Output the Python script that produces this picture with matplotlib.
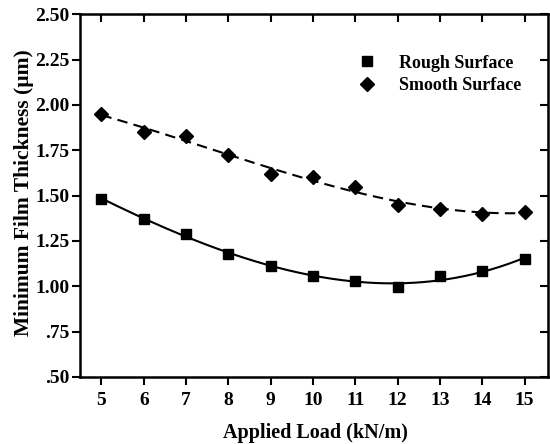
import numpy as np
import matplotlib
matplotlib.use('Agg')
import matplotlib.pyplot as plt

plt.rcParams['font.family'] = 'Liberation Serif'
plt.rcParams['font.weight'] = 'bold'

carga = [5, 6, 7, 8, 9, 10, 11, 12, 13, 14, 15]
rugosa = [1.48, 1.373, 1.29, 1.18, 1.11, 1.055, 1.028, 0.996, 1.055, 1.085, 1.149]
lisa = [1.952, 1.851, 1.827, 1.722, 1.618, 1.603, 1.548, 1.447, 1.428, 1.40, 1.41]
yt = [0.5, 0.75, 1.0, 1.25, 1.5, 1.75, 2.0, 2.25, 2.5]
yrot = ['.50', '.75', '1.00', '1.25', '1.50', '1.75', '2.00', '2.25', '2.50']

fig = plt.figure(figsize=(5.5, 4.44), dpi=100)
ax = fig.add_axes([0.146, 0.151, 0.850, 0.817])

# linhas de tendencia (ajuste polinomial)
xs = np.linspace(min(carga), max(carga), 200)
fit_r = np.polyfit(carga, rugosa, 3)
fit_l = np.polyfit(carga, lisa, 3)
ax.plot(xs, np.polyval(fit_r, xs), color='black', linewidth=1.5)
ax.plot(xs, np.polyval(fit_l, xs), color='black', linewidth=1.5, linestyle=(0, (5, 3)))

ax.plot(carga, rugosa, 's', color='black', markersize=7.5, label='Rough Surface')
ax.plot(carga, lisa, 'D', color='black', markersize=7, label='Smooth Surface')

ax.set_xlim(4.5, 15.55)
ax.set_ylim(0.5, 2.5)
ax.set_xticks(carga)
ax.set_yticks(yt)
ax.set_yticklabels(yrot)

for s in ax.spines.values():
    s.set_linewidth(1.8)
ax.tick_params(axis='both', direction='out', length=6, width=1.5, labelsize=14)
ax.tick_params(axis='y', pad=2)
ax.tick_params(axis='x', pad=5)

# ticks para dentro em cima e na direita
topo = ax.secondary_xaxis('top')
topo.set_xticks(carga)
topo.tick_params(direction='in', length=6, width=1.5, labeltop=False)
dir_ = ax.secondary_yaxis('right')
dir_.set_yticks(yt)
dir_.tick_params(direction='in', length=6, width=1.5, labelright=False)

ax.set_xlabel('Applied Load (kN/m)', fontsize=14.5, fontweight='bold', va='center')
ax.set_ylabel('Minimum Film Thickness (\u00b5m)', fontsize=15.5, fontweight='bold', va='center')
ax.xaxis.set_label_coords(0.503, -0.154)
ax.yaxis.set_label_coords(-0.12, 0.507)

leg = ax.legend(loc='upper right', bbox_to_anchor=(0.979, 0.933), frameon=False,
                fontsize=13, handletextpad=0.8, labelspacing=0.3, numpoints=1)

plt.savefig('out.png', dpi=100)
